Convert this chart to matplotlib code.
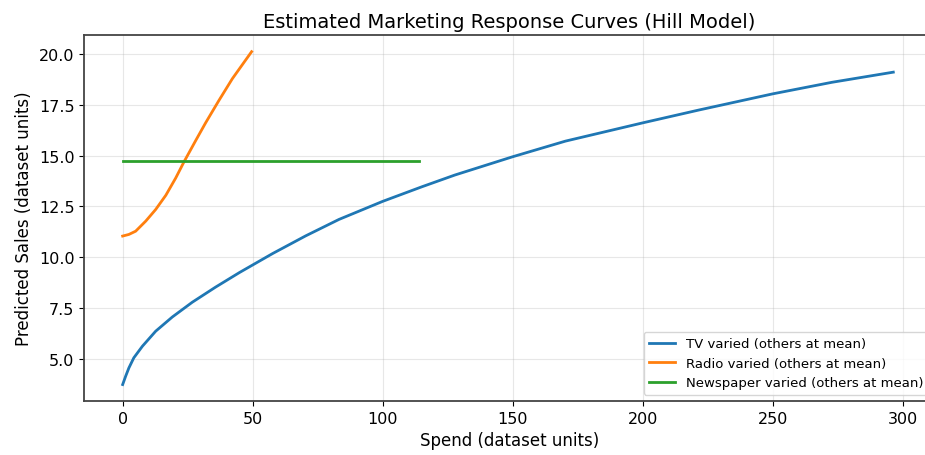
import matplotlib
matplotlib.use("Agg")
import matplotlib.pyplot as plt

# values
tv_spend = [0, 1.15, 2.4, 4.3, 7.6, 12.7, 19.1, 26.8, 35.7, 44.9, 57.7, 70.4, 83.2,
            100, 115.1, 127.8, 150, 170.3, 200, 221.5, 250, 272.8, 296.4]
tv_sales = [3.72, 4.13, 4.54, 5.04, 5.61, 6.35, 7.05, 7.78, 8.52, 9.24, 10.18, 11.05, 11.86,
            12.75, 13.47, 14.05, 14.95, 15.72, 16.62, 17.25, 18.05, 18.62, 19.12]

radio_spend = [0, 2.4, 5.0, 8.9, 12.7, 16.6, 20.4, 23.6, 28.1, 31.9, 37.0, 42.2, 49.6]
radio_sales = [11.04, 11.12, 11.28, 11.78, 12.35, 13.05, 13.90, 14.70, 15.75, 16.62, 17.72, 18.80, 20.13]

news_spend = [0, 114]
news_sales = [14.72, 14.72]

fig = plt.figure(figsize=(9.25, 4.56), dpi=100)
ax = fig.add_axes([0.091, 0.118, 0.92, 0.803])

ax.plot(tv_spend, tv_sales, lw=2, label="TV varied (others at mean)")
ax.plot(radio_spend, radio_sales, lw=2, label="Radio varied (others at mean)")
ax.plot(news_spend, news_sales, lw=2, label="Newspaper varied (others at mean)")

ax.set_xlim(-14.8, 312.5)
ax.set_title("Estimated Marketing Response Curves (Hill Model)", fontsize=14)
ax.set_xlabel("Spend (dataset units)", fontsize=12)
ax.set_ylabel("Predicted Sales (dataset units)", fontsize=12)
ax.tick_params(labelsize=11.5)
ax.grid(True, alpha=0.3)
ax.legend(loc="lower right", fontsize=9.5)
for s in ax.spines.values():
    s.set_linewidth(1.3)
    s.set_color("#444444")
ax.spines["right"].set_visible(False)  # cut off in the reference

fig.savefig("out.png", dpi=100)
